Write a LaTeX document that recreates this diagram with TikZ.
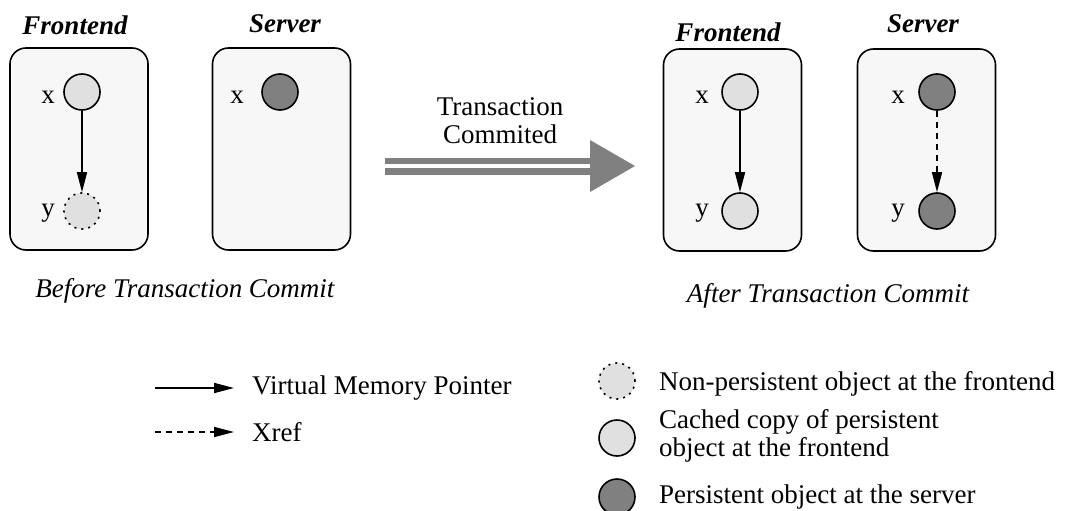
\documentclass[tikz,border=0pt]{standalone}
\usepackage{fontspec}
\setmainfont{Liberation Serif}
\usetikzlibrary{positioning, arrows.meta}

\newcommand\figsize{\fontsize{27}{28}\selectfont}

\tikzset{
  store/.style={draw, line width=1.6pt, rounded corners=16pt, fill=black!3,
    minimum width=138pt, minimum height=202pt},
  obj/.style={circle, draw, line width=1.6pt, minimum size=36pt, inner sep=0pt},
  cached/.style={obj, fill=black!12},
  persistent/.style={obj, fill=black!50},
  transient/.style={obj, fill=black!12, dash pattern=on 2pt off 5pt},
  pointer/.style={line width=1.6pt, -{Triangle[length=20pt,width=10pt]}},
  xref/.style={pointer, dash pattern=on 6pt off 5pt},
  title/.style={font=\figsize\bfseries\itshape},
  caption/.style={font=\figsize\itshape},
  legtext/.style={anchor=west, inner sep=0pt, align=left},
}

\begin{document}
\begin{tikzpicture}[x=1pt, y=-1pt, font=\figsize]
    \useasboundingbox (0,0) rectangle (1065,511);

    % before the commit
    \node[store] (fe1) at (79,149) {};
    \node[store] (sv1) at (281.5,149) {};
    \node[title] (fe1t) at (75,25) {Frontend};
    \node[title] (sv1t) at (285,24) {Server};

    \node[cached] (fx1) at (82,92) {};
    \node[transient] (fy1) at (82,211) {};
    \node (fx1l) at (48,97) {x};
    \node (fy1l) at (48,213) {y};
    \draw[pointer] (fx1) -- (fy1);

    \node[persistent] (sx1) at (280,92) {};
    \node (sx1l) at (237,97) {x};

    \node[caption] (before) at (185,291) {Before Transaction Commit};

    % commit arrow
    \node[align=center] (commit) at (500,121) {Transaction\\Commited};
    \fill[black!50] (385,158) rectangle (592,164);
    \fill[black!50] (385,168) rectangle (592,175);
    \fill[black!50] (590,140) -- (635,166) -- (590,192) -- cycle;

    % after the commit
    \node[store] (fe2) at (732.5,150) {};
    \node[store] (sv2) at (926.5,150) {};
    \node[title] (fe2t) at (728,32) {Frontend};
    \node[title] (sv2t) at (923,24) {Server};

    \node[cached] (fx2) at (740,92) {};
    \node[cached] (fy2) at (740,211) {};
    \node (fx2l) at (702,97) {x};
    \node (fy2l) at (702,213) {y};
    \draw[pointer] (fx2) -- (fy2);

    \node[persistent] (sx2) at (937,92) {};
    \node[persistent] (sy2) at (937,211) {};
    \node (sx2l) at (898,97) {x};
    \node (sy2l) at (898,213) {y};
    \draw[xref] (sx2) -- (sy2);

    \node[caption] (after) at (828,296) {After Transaction Commit};

    % legend
    \coordinate (vm-a) at (155,388);
    \coordinate (vm-b) at (234,388);
    \draw[pointer] (vm-a) -- (vm-b);
    \node[legtext] (vm) at (252,388) {Virtual Memory Pointer};

    \coordinate (xr-a) at (155,432);
    \coordinate (xr-b) at (234,432);
    \draw[xref] (xr-a) -- (xr-b);
    \node[legtext] (xr) at (252,432) {Xref};

    \node[transient] (lt) at (617,381) {};
    \node[legtext] (ltt) at (659,384) {Non-persistent object at the frontend};
    \node[cached] (lc) at (617,438) {};
    \node[legtext] (lct) at (659,436) {Cached copy of persistent\\object at the frontend};
    \node[persistent] (lp) at (617,497) {};
    \node[legtext] (lpt) at (659,497) {Persistent object at the server};
\end{tikzpicture}
\end{document}
